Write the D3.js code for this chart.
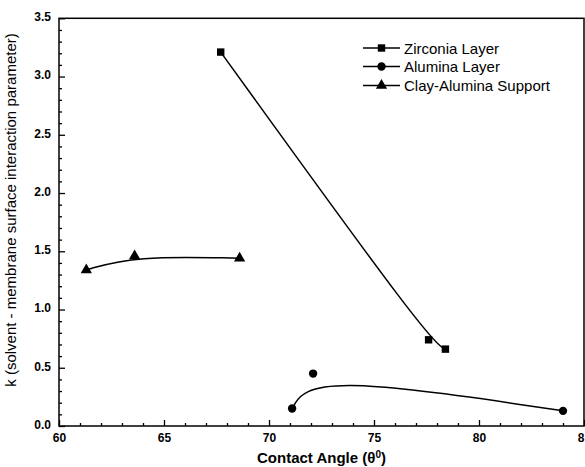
<!DOCTYPE html>
<html><head><meta charset="utf-8">
<script src="https://cdn.jsdelivr.net/npm/d3@7/dist/d3.min.js"></script>
<style>body{margin:0;background:#fff}svg{display:block}text{font-family:"Liberation Sans",Arial,sans-serif}</style>
</head><body><svg id="c" width="585" height="467"></svg>
<script>
const seriesNames = ["Zirconia Layer", "Alumina Layer", "Clay-Alumina Support"];
const zirconiaX = [67.7, 77.6, 78.4];
const zirconiaY = [3.21, 0.74, 0.66];
const aluminaX = [71.1, 72.1, 84.0];
const aluminaY = [0.15, 0.45, 0.13];
const clayX = [61.3, 63.6, 68.6];
const clayY = [1.34, 1.46, 1.44];
const xTicks = [60, 65, 70, 75, 80, 85];
const yTicks = [0.0, 0.5, 1.0, 1.5, 2.0, 2.5, 3.0, 3.5];

const svg = d3.select("#c");
const L = 59, R = 584, T = 18.3, B = 426;
const x = d3.scaleLinear().domain([60, 85]).range([L, R]);
const y = d3.scaleLinear().domain([0, 3.5]).range([B, T]);

// frame
svg.append("rect").attr("x", L).attr("y", T).attr("width", R - L).attr("height", B - T)
  .attr("fill", "none").attr("stroke", "#000").attr("stroke-width", 1.5);

// axes with inward ticks
const xMinor = d3.range(61, 85, 1).filter(v => v % 5 !== 0);
const yMinor = d3.range(1, 35).map(v => v / 10).filter(v => Math.abs(v * 2 - Math.round(v * 2)) > 1e-6);
const gx = svg.append("g").attr("transform", `translate(0,${B})`);
gx.call(d3.axisBottom(x).tickValues(xTicks).tickSizeInner(-6).tickSizeOuter(0).tickPadding(7).tickFormat(d3.format("d")));
gx.append("g").call(d3.axisBottom(x).tickValues(xMinor).tickSizeInner(-3).tickSizeOuter(0).tickFormat(""));
const gy = svg.append("g").attr("transform", `translate(${L},0)`);
gy.call(d3.axisLeft(y).tickValues(yTicks).tickSizeInner(-6).tickSizeOuter(0).tickPadding(8).tickFormat(d3.format(".1f")));
gy.append("g").call(d3.axisLeft(y).tickValues(yMinor).tickSizeInner(-3).tickSizeOuter(0).tickFormat(""));
svg.selectAll(".domain").remove();
svg.selectAll(".tick line").attr("stroke", "#000").attr("stroke-width", 1.3);
svg.selectAll(".tick text").attr("font-size", 12).attr("font-weight", "bold").attr("fill", "#000")
  .attr("font-family", '"Liberation Sans",Arial,sans-serif');
gy.selectAll(".tick text").attr("dy", "0.2em");
// last x label is clipped by the page edge in the reference
gx.selectAll(".tick text").filter(d => d === 85).attr("text-anchor", "end").attr("dx", "0").text("8");

// axis titles
svg.append("text").attr("x", (L + R) / 2).attr("y", 463).attr("text-anchor", "middle")
  .attr("font-size", 15).attr("font-weight", "bold")
  .html('Contact Angle (θ<tspan dy="-5" font-size="10">0</tspan><tspan dy="5">)</tspan>');
svg.append("text").attr("transform", `translate(16,210) rotate(-90)`)
  .attr("text-anchor", "middle").attr("font-size", 15)
  .text("k (solvent - membrane surface interaction parameter)");

// series
const series = [
  {xs: zirconiaX, ys: zirconiaY, sym: d3.symbolSquare, size: 55},
  {xs: aluminaX, ys: aluminaY, sym: d3.symbolCircle, size: 55},
  {xs: clayX, ys: clayY, sym: d3.symbolTriangle, size: 55}
];
const line = d3.line().x(d => x(d[0])).y(d => y(d[1])).curve(d3.curveBasis);
series.forEach(s => {
  const pts = s.xs.map((v, i) => [v, s.ys[i]]);
  svg.append("path").attr("d", line(pts)).attr("fill", "none").attr("stroke", "#000").attr("stroke-width", 1.5);
  svg.selectAll(null).data(pts).enter().append("path")
    .attr("d", d3.symbol().type(s.sym).size(s.size))
    .attr("transform", d => `translate(${x(d[0])},${y(d[1])})`).attr("fill", "#000");
});

// legend
const lg = svg.append("g");
const rows = [48, 66.5, 85.5];
series.forEach((s, i) => {
  const g = lg.append("g").attr("transform", `translate(0,${rows[i]})`);
  g.append("line").attr("x1", 363).attr("x2", 400).attr("y1", 0).attr("y2", 0).attr("stroke", "#000").attr("stroke-width", 1.5);
  g.append("path").attr("d", d3.symbol().type(s.sym).size(s.size)).attr("transform", "translate(381.5,0)").attr("fill", "#000");
  g.append("text").attr("x", 404).attr("y", 5.5).attr("font-size", 15).text(seriesNames[i]);
});
</script></body></html>
